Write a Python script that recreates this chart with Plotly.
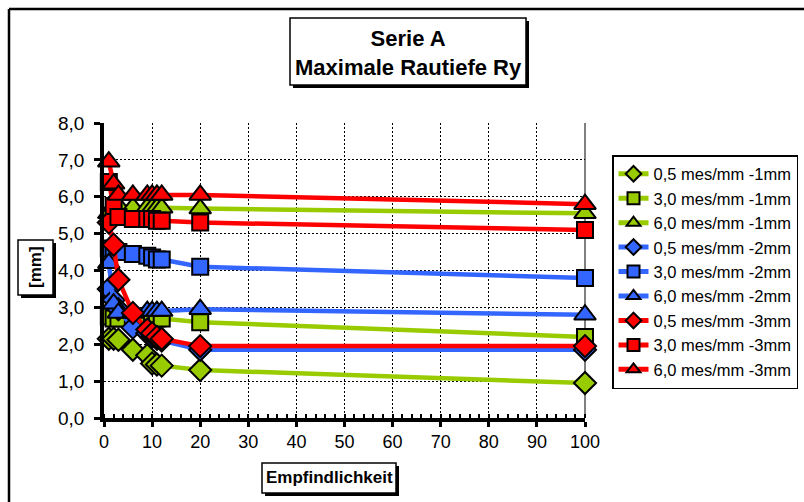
import plotly.graph_objects as go

# Empfindlichkeit (x) and Ry values [mm] for each series
empf = [1, 2, 3, 6, 9, 10, 11, 12, 20, 100]

g_05 = [2.15, 2.15, 2.12, 1.85, 1.7, 1.48, 1.45, 1.42, 1.3, 0.95]
g_30 = [2.75, 2.7, 2.7, 2.7, 2.7, 2.7, 2.7, 2.7, 2.6, 2.2]
g_60 = [5.55, 5.75, 5.75, 5.72, 5.72, 5.7, 5.7, 5.7, 5.68, 5.55]
b_05 = [3.5, 3.2, 2.95, 2.45, 2.3, 2.2, 2.15, 2.1, 1.85, 1.85]
b_30 = [4.6, 4.5, 4.5, 4.45, 4.4, 4.35, 4.3, 4.3, 4.1, 3.8]
b_60 = [4.2, 3.1, 2.85, 2.85, 2.9, 2.9, 2.9, 2.9, 2.95, 2.8]
r_05 = [5.3, 4.7, 3.75, 2.85, 2.4, 2.3, 2.2, 2.15, 1.95, 1.95]
r_30 = [6.4, 5.75, 5.45, 5.4, 5.4, 5.4, 5.35, 5.35, 5.3, 5.1]
r_60 = [6.95, 6.35, 6.05, 6.05, 6.05, 6.05, 6.05, 6.05, 6.05, 5.8]

names = ["0,5 mes/mm -1mm", "3,0 mes/mm -1mm", "6,0 mes/mm -1mm",
         "0,5 mes/mm -2mm", "3,0 mes/mm -2mm", "6,0 mes/mm -2mm",
         "0,5 mes/mm -3mm", "3,0 mes/mm -3mm", "6,0 mes/mm -3mm"]
series = [g_05, g_30, g_60, b_05, b_30, b_60, r_05, r_30, r_60]

GREEN = "#99CC00"
BLUE = "#3366FF"
RED = "#FF0000"
colors = [GREEN] * 3 + [BLUE] * 3 + [RED] * 3
symbols = ["diamond", "square", "triangle-up"] * 3
sizes = [17, 16, 19] * 3

FONT = "Liberation Sans, Arial, sans-serif"

# plot area in pixels
L, R, T, B = 104, 585, 123, 418
W, H = R - L, B - T


def px(xp):
    return (xp - L) / W


def py(yp):
    return (B - yp) / H


fig = go.Figure()
for i, (nm, ys) in enumerate(zip(names, series)):
    fig.add_trace(go.Scatter(
        x=empf, y=ys, name=nm, mode="lines+markers",
        line=dict(color=colors[i], width=4.5),
        marker=dict(symbol=symbols[i], size=sizes[i], color=colors[i],
                    line=dict(color="black", width=2)),
        cliponaxis=False,
    ))


def box(x0, y0, x1, y1):
    # shadow then white box
    s = [dict(type="rect", xref="paper", yref="paper",
              x0=px(x0 + 3), x1=px(x1 + 3), y0=py(y1 + 3), y1=py(y0 + 3),
              fillcolor="black", line=dict(width=0), layer="above"),
         dict(type="rect", xref="paper", yref="paper",
              x0=px(x0), x1=px(x1), y0=py(y1), y1=py(y0),
              fillcolor="white", line=dict(color="black", width=1.5), layer="above")]
    return s


shapes = []
# outer chart frame (left and top edges, the rest is off-page)
shapes.append(dict(type="line", xref="paper", yref="paper",
                   x0=px(9), x1=px(9), y0=py(502), y1=py(9),
                   line=dict(color="black", width=2.5), layer="below"))
shapes.append(dict(type="line", xref="paper", yref="paper",
                   x0=px(9), x1=px(804), y0=py(9), y1=py(9),
                   line=dict(color="black", width=2.5), layer="below"))
# right border of plot area
shapes.append(dict(type="line", xref="paper", yref="paper",
                   x0=1, x1=1, y0=0, y1=1,
                   line=dict(color="#808080", width=2), layer="below"))
shapes += box(290, 18, 526, 85)
shapes += box(18, 240, 53, 295)
shapes += box(262, 463, 396, 493)


def label(text, xp, yp, size, angle=0):
    return dict(text=text, xref="paper", yref="paper", x=px(xp), y=py(yp),
                xanchor="center", yanchor="middle", textangle=angle,
                showarrow=False, font=dict(family=FONT, size=size, color="black"))


annotations = [
    label("<b>Serie A<br>Maximale Rautiefe Ry</b>", 408, 53, 22),
    label("<b>[mm]</b>", 35.5, 267.5, 17, -90),
    label("<b>Empfindlichkeit</b>", 329, 478, 17),
]

fig.update_layout(
    width=804, height=502,
    margin=dict(l=L, r=804 - R, t=T, b=502 - B, autoexpand=False),
    paper_bgcolor="white", plot_bgcolor="white",
    font=dict(family=FONT, color="black"),
    showlegend=True,
    legend=dict(x=px(612), y=py(155), xanchor="left", yanchor="top",
                bgcolor="white", bordercolor="black", borderwidth=1.5,
                font=dict(family=FONT, size=16.5, color="black"),
                itemsizing="constant", traceorder="normal"),
    shapes=shapes,
    annotations=annotations,
)

fig.update_xaxes(
    range=[0, 100], tickmode="array", tickvals=list(range(0, 101, 10)),
    showgrid=True, gridcolor="black", gridwidth=1, griddash="2px,2px",
    showline=True, linecolor="black", linewidth=3.5,
    ticks="outside", ticklen=5, tickwidth=3, tickcolor="black",
    minor=dict(dtick=2, ticks="inside", ticklen=4, tickwidth=2, tickcolor="black", showgrid=False),
    tickfont=dict(family=FONT, size=18, color="black"),
    zeroline=False, fixedrange=True,
)
fig.update_yaxes(
    range=[0, 8], tickmode="array", tickvals=[0, 1, 2, 3, 4, 5, 6, 7, 8],
    ticktext=["0,0", "1,0", "2,0", "3,0", "4,0", "5,0", "6,0", "7,0", "8,0"],
    showgrid=True, gridcolor="black", gridwidth=1, griddash="2px,2px",
    showline=True, linecolor="black", linewidth=3.5,
    ticks="outside", ticklen=6, tickwidth=3, tickcolor="black",
    tickfont=dict(family=FONT, size=19, color="black"),
    ticklabelstandoff=6,
    zeroline=False, fixedrange=True,
)

# drop the browser's default body margin so the figure sits at the page corner
fig.write_html("out.html", config={"displayModeBar": False},
               post_script="document.body.style.margin='0';document.body.style.overflow='hidden';")
